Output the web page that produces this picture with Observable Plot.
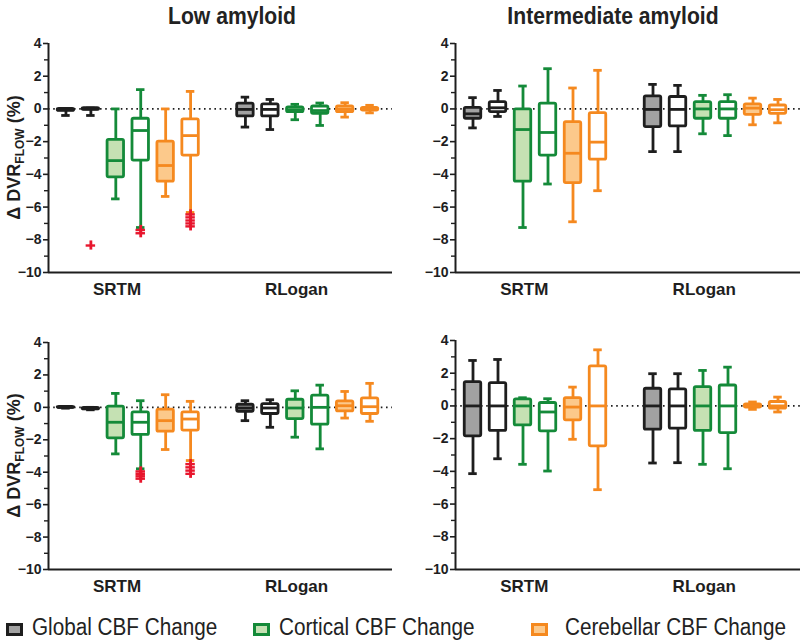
<!DOCTYPE html>
<html>
<head>
<meta charset="utf-8">
<script src="https://cdn.jsdelivr.net/npm/d3@7"></script>
<script src="https://cdn.jsdelivr.net/npm/@observablehq/plot@0.6"></script>
<style>
  html, body { margin: 0; padding: 0; background: #fff; }
  #root { position: relative; width: 800px; height: 643px; overflow: hidden; font-family: Arial, "Liberation Sans", sans-serif; }
  .panel { position: absolute; }
  .title { position: absolute; top: 2px; transform: translateX(-50%) scaleX(0.88); font-weight: bold; font-size: 24px; color: #222; white-space: nowrap; }
  .legend { position: absolute; top: 614px; left: 0; width: 800px; height: 28px; font-size: 23px; color: #222; }
  .legend .sw { position: absolute; top: 9px; width: 11px; height: 7px; border: 3px solid; }
  .legend .lab { position: absolute; top: 0px; white-space: nowrap; transform-origin: 0 50%; transform: scaleX(0.9); }
</style>
</head>
<body>
<div id="root"></div>
<script>
// ---------------- data ----------------
const methods = ["SRTM", "RLogan"];
const panelTitles = ["Low amyloid", "Intermediate amyloid"];
const legendLabels = ["Global CBF Change", "Cortical CBF Change", "Cerebellar CBF Change"];
// box order within each method: global (filled), global (open), cortical (filled), cortical (open), cerebellar (filled), cerebellar (open)
// each box: [min, q1, median, q3, max]
const topLowSRTM = [
  [-0.4, -0.12, -0.05, 0.0, 0.0],
  [-0.4, -0.05, 0.0, 0.05, 0.05],
  [-5.5, -4.18, -3.16, -1.89, 0.0],
  [-7.25, -3.16, -1.32, -0.6, 1.18],
  [-5.35, -4.45, -3.46, -2.0, 0.0],
  [-6.33, -2.85, -1.63, -0.64, 1.07]
];
const topLowRLogan = [
  [-1.11, -0.46, -0.03, 0.32, 0.72],
  [-1.26, -0.46, -0.03, 0.28, 0.58],
  [-0.66, -0.2, -0.05, 0.1, 0.28],
  [-1.01, -0.3, -0.1, 0.15, 0.36],
  [-0.5, -0.2, -0.03, 0.15, 0.38],
  [-0.24, -0.1, 0.0, 0.07, 0.22]
];
const topInterSRTM = [
  [-1.16, -0.6, -0.3, 0.07, 0.69],
  [-0.46, -0.19, 0.07, 0.42, 1.13],
  [-7.25, -4.45, -1.26, -0.03, 1.4],
  [-4.59, -2.85, -1.44, 0.32, 2.46],
  [-6.9, -4.53, -2.71, -0.81, 1.28],
  [-5.0, -3.1, -2.03, -0.26, 2.36]
];
const topInterRLogan = [
  [-2.61, -1.11, -0.03, 0.77, 1.5],
  [-2.61, -1.07, -0.03, 0.73, 1.44],
  [-1.52, -0.6, 0.0, 0.42, 0.83],
  [-1.63, -0.6, 0.0, 0.42, 0.87],
  [-0.97, -0.36, 0.05, 0.28, 0.66],
  [-0.85, -0.3, -0.05, 0.21, 0.58]
];
const bottomLowSRTM = [
  [-0.05, -0.03, 0.0, 0.03, 0.05],
  [-0.15, -0.12, -0.08, -0.04, 0.0],
  [-2.87, -1.91, -0.92, 0.04, 0.86],
  [-3.79, -1.7, -0.92, -0.31, 0.41],
  [-2.6, -1.5, -0.82, -0.14, 0.78],
  [-3.28, -1.43, -0.72, -0.31, 0.37]
];
const bottomLowRLogan = [
  [-0.82, -0.27, -0.04, 0.16, 0.41],
  [-1.23, -0.41, -0.04, 0.2, 0.47],
  [-1.84, -0.72, -0.04, 0.47, 1.02],
  [-2.56, -1.07, 0.0, 0.72, 1.37],
  [-0.66, -0.25, 0.1, 0.37, 0.98],
  [-0.86, -0.41, 0.04, 0.55, 1.48]
];
const bottomInterSRTM = [
  [-4.14, -1.86, 0.0, 1.46, 2.78],
  [-3.23, -1.53, 0.0, 1.4, 2.84],
  [-3.57, -1.19, 0.0, 0.4, 0.5],
  [-3.98, -1.55, -0.37, 0.18, 0.44],
  [-2.04, -0.88, -0.07, 0.48, 1.15],
  [-5.12, -2.47, 0.0, 2.42, 3.43]
];
const bottomInterRLogan = [
  [-3.49, -1.45, 0.0, 1.05, 1.97],
  [-3.47, -1.39, 0.0, 1.01, 1.97],
  [-3.57, -1.53, 0.0, 1.15, 2.17],
  [-3.84, -1.66, 0.0, 1.25, 2.37],
  [-0.21, -0.1, 0.0, 0.1, 0.24],
  [-0.37, -0.17, 0.0, 0.24, 0.54]
];
// outliers: [method index, box index, value]
const topLowOutliers = [
  [0, 1, -8.35],
  [0, 3, -7.4], [0, 3, -7.6],
  [0, 5, -6.45], [0, 5, -6.63], [0, 5, -6.82], [0, 5, -7.0], [0, 5, -7.18]
];
const bottomLowOutliers = [
  [0, 3, -3.95], [0, 3, -4.1], [0, 3, -4.25], [0, 3, -4.4],
  [0, 5, -3.5], [0, 5, -3.7], [0, 5, -3.9], [0, 5, -4.1]
];
const noOutliers = [];
const yMajorTicks = [-10, -8, -6, -4, -2, 0, 2, 4];
const yMinorTicks = [-9, -7, -5, -3, -1, 1, 3];

// ---------------- styles ----------------
const strokeColors = ["#1e1e1e", "#1e1e1e", "#148a39", "#148a39", "#f5891f", "#f5891f"];
const fillColors = ["#a2a2a2", "#ffffff", "#c5e1b3", "#ffffff", "#fcc98b", "#ffffff"];
const legendStroke = ["#1e1e1e", "#148a39", "#f5891f"];
const legendFill = ["#a2a2a2", "#c5e1b3", "#fcc98b"];
const outlierColor = "#e8162d";
const groupGap = 7.2;       // start of second group (in box-slot units)
const boxHalf = 0.33, capHalf = 0.17, lw = 2.8;
const plusHalfX = 0.19, plusHalfY = 0.28;

function xPos(m, i) { return 1 + i + m * groupGap; }

function buildBoxes(srtm, rlogan) {
  const out = [];
  [srtm, rlogan].forEach((arr, m) => arr.forEach((s, i) => {
    out.push({x: xPos(m, i), min: s[0], q1: s[1], med: s[2], q3: s[3], max: s[4],
              stroke: strokeColors[i], fill: fillColors[i]});
  }));
  return out;
}

function makePanel(cfg) {
  const boxes = buildBoxes(cfg.srtm, cfg.rlogan);
  const outs = cfg.outliers.map(o => ({x: xPos(o[0], o[1]), y: o[2]}));
  const plot = Plot.plot({
    width: 400, height: 280,
    marginLeft: cfg.mL, marginRight: cfg.mR, marginTop: cfg.mT, marginBottom: cfg.mB,
    style: {overflow: "visible", background: "transparent", fontFamily: "Arial, 'Liberation Sans', sans-serif", color: "#1e1e1e"},
    x: {domain: [0.3, 14.1], axis: null},
    y: {domain: [-10, 4]},
    marks: [
      Plot.ruleY([0], {stroke: "#1e1e1e", strokeWidth: 1.8, strokeDasharray: "1.6,3.6"}),
      Plot.ruleX(boxes, {x: "x", y1: "min", y2: "max", stroke: d => d.stroke, strokeWidth: lw}),
      Plot.ruleY(boxes, {y: "min", x1: d => d.x - capHalf, x2: d => d.x + capHalf, stroke: d => d.stroke, strokeWidth: lw}),
      Plot.ruleY(boxes, {y: "max", x1: d => d.x - capHalf, x2: d => d.x + capHalf, stroke: d => d.stroke, strokeWidth: lw}),
      Plot.rect(boxes, {x1: d => d.x - boxHalf, x2: d => d.x + boxHalf, y1: "q1", y2: "q3", fill: d => d.fill, stroke: d => d.stroke, strokeWidth: lw, rx: 1.5}),
      Plot.ruleY(boxes, {y: "med", x1: d => d.x - boxHalf, x2: d => d.x + boxHalf, stroke: d => d.stroke, strokeWidth: lw}),
      // outliers drawn as "+" markers
      Plot.ruleY(outs, {y: "y", x1: d => d.x - plusHalfX, x2: d => d.x + plusHalfX, stroke: outlierColor, strokeWidth: 2.4}),
      Plot.ruleX(outs, {x: "x", y1: d => d.y - plusHalfY, y2: d => d.y + plusHalfY, stroke: outlierColor, strokeWidth: 2.8}),
      Plot.ruleX([0.3], {strokeWidth: 2, stroke: "#1e1e1e"}),
      Plot.ruleY([-10], {strokeWidth: 2, stroke: "#1e1e1e"}),
      Plot.axisY(yMajorTicks, {tickSize: 5, tickPadding: 2, fontSize: 14, fontWeight: "bold", strokeWidth: 1.6, label: null}),
      Plot.axisY(yMinorTicks, {tickSize: 4, tickFormat: () => "", strokeWidth: 1.4, label: null}),
      Plot.text(methods, {x: (d, m) => xPos(m, 2.5) - 0.45, y: () => -10, dy: 17, text: d => d, fontSize: 17, fontWeight: "bold", fill: "#1e1e1e"})
    ]
  });
  if (cfg.ylabel) {
    const svg = d3.select(plot);
    const cy = (cfg.mT + (280 - cfg.mB)) / 2;
    const t = svg.append("text")
      .attr("transform", `translate(20, ${cy}) rotate(-90)`)
      .attr("text-anchor", "middle")
      .attr("font-weight", "bold").attr("font-size", 18).attr("fill", "#1e1e1e")
      .attr("font-family", "Arial, 'Liberation Sans', sans-serif");
    t.append("tspan").text("\u0394 DVR");
    t.append("tspan").attr("font-size", 12).attr("dy", 4).text("FLOW");
    t.append("tspan").attr("dy", -4).text(" (%)");
  }
  const div = document.createElement("div");
  div.className = "panel";
  div.style.left = cfg.left + "px";
  div.style.top = cfg.top + "px";
  div.appendChild(plot);
  return div;
}

const root = document.getElementById("root");
[
  {left: 0, top: 30, mL: 48, mR: 8, mT: 13, mB: 38, srtm: topLowSRTM, rlogan: topLowRLogan, outliers: topLowOutliers, ylabel: true},
  {left: 400, top: 30, mL: 55, mR: 0, mT: 13, mB: 38, srtm: topInterSRTM, rlogan: topInterRLogan, outliers: noOutliers, ylabel: false},
  {left: 0, top: 320, mL: 48, mR: 8, mT: 22, mB: 31, srtm: bottomLowSRTM, rlogan: bottomLowRLogan, outliers: bottomLowOutliers, ylabel: true},
  {left: 400, top: 320, mL: 55, mR: 0, mT: 20, mB: 31, srtm: bottomInterSRTM, rlogan: bottomInterRLogan, outliers: noOutliers, ylabel: false}
].forEach(cfg => root.appendChild(makePanel(cfg)));

// titles
const titleX = [232, 613];
panelTitles.forEach((t, i) => {
  const d = document.createElement("div");
  d.className = "title";
  d.style.left = titleX[i] + "px";
  d.textContent = t;
  root.appendChild(d);
});

// legend
const legend = document.createElement("div");
legend.className = "legend";
const swX = [6, 253, 531], labX = [32, 279, 565];
legendLabels.forEach((l, i) => {
  const sw = document.createElement("div");
  sw.className = "sw";
  sw.style.left = swX[i] + "px";
  sw.style.borderColor = legendStroke[i];
  sw.style.background = legendFill[i];
  const lab = document.createElement("div");
  lab.className = "lab";
  lab.style.left = labX[i] + "px";
  lab.textContent = l;
  legend.appendChild(sw);
  legend.appendChild(lab);
});
root.appendChild(legend);
</script>
</body>
</html>
